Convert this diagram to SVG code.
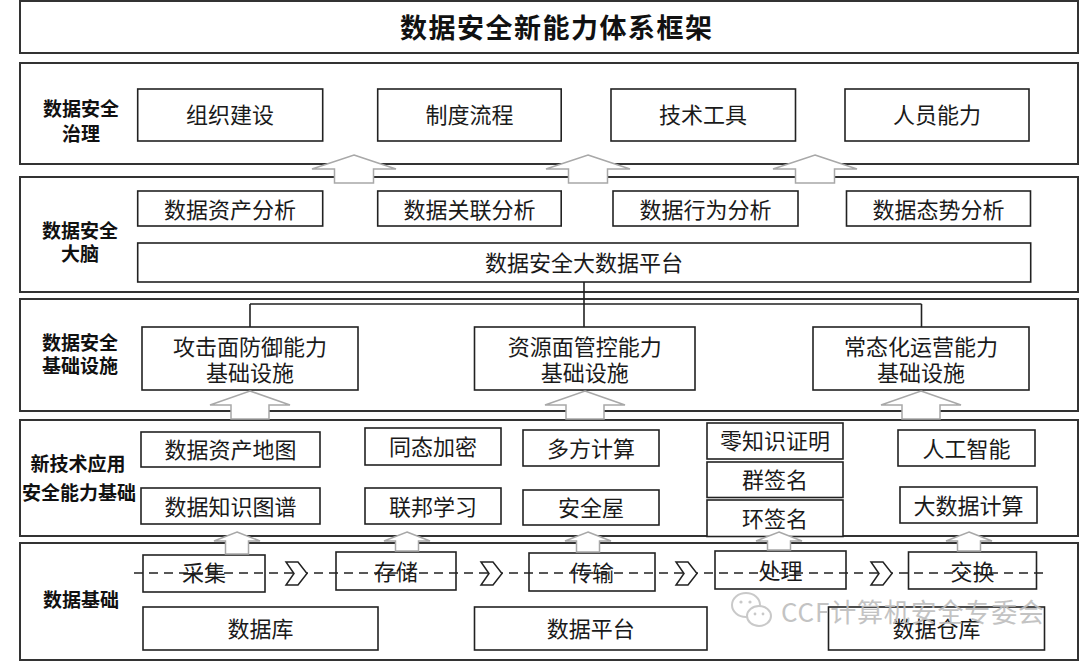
<svg xmlns="http://www.w3.org/2000/svg" width="1080" height="661" viewBox="0 0 1080 661">
<defs>
<style>
.sec{fill:#fff;stroke:#333;stroke-width:2}
.box{fill:#fff;stroke:#222;stroke-width:1.6}
.t{font-family:"Noto Sans CJK SC","Noto Sans",sans-serif;font-size:22px;fill:#1a1a1a;text-anchor:middle;dominant-baseline:central}
.lb{font-family:"Noto Sans CJK SC","Noto Sans",sans-serif;font-size:19px;font-weight:bold;fill:#111;text-anchor:middle;dominant-baseline:central}
.ttl{font-family:"Noto Sans CJK SC","Noto Sans",sans-serif;font-size:27px;font-weight:bold;fill:#111;dominant-baseline:central}
.arw{fill:#fff;stroke:#a8a8a8;stroke-width:1.5;stroke-linejoin:miter}
.ln{fill:none;stroke:#222;stroke-width:1.6}
.dash{fill:none;stroke:#222;stroke-width:1.5;stroke-dasharray:9 6}
.chev{fill:#fff;stroke:#222;stroke-width:1.5}
.wm{font-family:"Noto Sans CJK SC","Noto Sans",sans-serif;font-size:26px;fill:#bdbdbd;dominant-baseline:central}
</style>
</defs>

<g id="title">
<rect class="sec" x="20" y="1" width="1058" height="52"/>
<text class="ttl" x="400" y="26.5" textLength="312" lengthAdjust="spacing">数据安全新能力体系框架</text>
</g>

<g id="layer-governance">
<rect class="sec" x="20" y="63" width="1058" height="101"/>
<text class="lb"><tspan x="81" y="106.5">数据安全</tspan><tspan x="81" y="131.5">治理</tspan></text>
</g>
<g id="layer-brain">
<rect class="sec" x="20" y="177" width="1058" height="115"/>
<text class="lb"><tspan x="80" y="228.5">数据安全</tspan><tspan x="80" y="251.5">大脑</tspan></text>
</g>
<g id="layer-infra">
<rect class="sec" x="20" y="299" width="1058" height="112"/>
<text class="lb"><tspan x="80" y="340.5">数据安全</tspan><tspan x="80" y="363.5">基础设施</tspan></text>
</g>
<g id="layer-newtech">
<rect class="sec" x="20" y="420" width="1058" height="116"/>
<text class="lb"><tspan x="78" y="461.5">新技术应用</tspan><tspan x="79" y="490.5">安全能力基础</tspan></text>
</g>
<g id="layer-data">
<rect class="sec" x="20" y="543" width="1058" height="117"/>
<text class="lb" x="81" y="598.5">数据基础</text>
</g>

<g id="n-org"><rect class="box" x="137.7" y="89" width="185" height="52"/><text class="t" x="230" y="113">组织建设</text></g>
<g id="n-policy"><rect class="box" x="377.7" y="89" width="183.5" height="52"/><text class="t" x="469.5" y="113">制度流程</text></g>
<g id="n-tools"><rect class="box" x="611" y="89" width="184.5" height="52"/><text class="t" x="703" y="113">技术工具</text></g>
<g id="n-people"><rect class="box" x="845" y="89" width="184" height="52"/><text class="t" x="937" y="113">人员能力</text></g>

<g id="n-asset-analysis"><rect class="box" x="137.7" y="191" width="185" height="35"/><text class="t" x="230" y="207.5">数据资产分析</text></g>
<g id="n-relation-analysis"><rect class="box" x="377.7" y="191" width="183.5" height="35"/><text class="t" x="469.5" y="207.5">数据关联分析</text></g>
<g id="n-behavior-analysis"><rect class="box" x="613" y="191" width="185" height="35"/><text class="t" x="705.5" y="207.5">数据行为分析</text></g>
<g id="n-situation-analysis"><rect class="box" x="846.5" y="191" width="184" height="35"/><text class="t" x="938.5" y="207.5">数据态势分析</text></g>
<g id="n-bigdata-platform"><rect class="box" x="137.7" y="243" width="893" height="39"/><text class="t" x="584" y="260.5">数据安全大数据平台</text></g>

<g id="n-attack-surface"><rect class="box" x="142" y="327" width="216" height="63"/><text class="t"><tspan x="250" y="345">攻击面防御能力</tspan><tspan x="250" y="371">基础设施</tspan></text></g>
<g id="n-resource-surface"><rect class="box" x="474.5" y="327" width="220.5" height="63"/><text class="t"><tspan x="584.7" y="345">资源面管控能力</tspan><tspan x="584.7" y="371">基础设施</tspan></text></g>
<g id="n-operations"><rect class="box" x="813" y="327" width="216" height="63"/><text class="t"><tspan x="921" y="345">常态化运营能力</tspan><tspan x="921" y="371">基础设施</tspan></text></g>

<g id="n-asset-map"><rect class="box" x="141" y="432" width="179" height="35"/><text class="t" x="230.5" y="448">数据资产地图</text></g>
<g id="n-knowledge-graph"><rect class="box" x="141" y="488" width="179" height="36"/><text class="t" x="230.5" y="504.5">数据知识图谱</text></g>
<g id="n-homomorphic"><rect class="box" x="365" y="428" width="136" height="37"/><text class="t" x="433" y="445">同态加密</text></g>
<g id="n-federated"><rect class="box" x="365" y="488" width="136" height="36"/><text class="t" x="433" y="504.5">联邦学习</text></g>
<g id="n-mpc"><rect class="box" x="523" y="430" width="136" height="36"/><text class="t" x="591" y="446.5">多方计算</text></g>
<g id="n-safe-house"><rect class="box" x="523" y="490" width="136" height="35"/><text class="t" x="591" y="506">安全屋</text></g>
<g id="n-zkp"><rect class="box" x="707" y="423" width="136" height="36"/><text class="t" x="775" y="439">零知识证明</text></g>
<g id="n-group-sig"><rect class="box" x="707" y="462" width="136" height="35.5"/><text class="t" x="775" y="478">群签名</text></g>
<g id="n-ring-sig"><rect class="box" x="707" y="500" width="136" height="36.5"/><text class="t" x="775" y="516.5">环签名</text></g>
<g id="n-ai"><rect class="box" x="898" y="430" width="137" height="36"/><text class="t" x="966.5" y="446.5">人工智能</text></g>
<g id="n-bigdata-compute"><rect class="box" x="900" y="487" width="137" height="36"/><text class="t" x="968.5" y="503.5">大数据计算</text></g>

<g id="n-collect"><rect class="box" x="143" y="555" width="122" height="37"/><text class="t" x="204" y="571">采集</text></g>
<g id="n-store"><rect class="box" x="336" y="552" width="120" height="38"/><text class="t" x="396" y="570">存储</text></g>
<g id="n-transfer"><rect class="box" x="529" y="553" width="126" height="38"/><text class="t" x="592" y="571">传输</text></g>
<g id="n-process"><rect class="box" x="715" y="551" width="131" height="38"/><text class="t" x="780.5" y="569">处理</text></g>
<g id="n-exchange"><rect class="box" x="908.5" y="552" width="128" height="37"/><text class="t" x="972.5" y="570">交换</text></g>
<g id="n-database"><rect class="box" x="143" y="607" width="235" height="43"/><text class="t" x="260.5" y="627">数据库</text></g>
<g id="n-data-platform"><rect class="box" x="474.5" y="607" width="232.5" height="43"/><text class="t" x="590.7" y="627">数据平台</text></g>
<g id="n-data-warehouse"><rect class="box" x="828.5" y="607" width="216" height="43"/><text class="t" x="936.5" y="627">数据仓库</text></g>

<g id="connectors">
<path class="ln" d="M584,282 V327 M250,304 H921.5 M250,304 V327 M921.5,304 V327"/>
<polygon class="arw" points="354,155 396,169 373.5,169 373.5,183 334.5,183 334.5,169 312,169"/>
<polygon class="arw" points="588,155 630,169 607.5,169 607.5,183 568.5,183 568.5,169 546,169"/>
<polygon class="arw" points="815,155 857,169 834.5,169 834.5,183 795.5,183 795.5,169 773,169"/>
<polygon class="arw" points="250,391 290,405 269,405 269,419 231,419 231,405 210,405"/>
<polygon class="arw" points="585,391 625,405 604,405 604,419 566,419 566,405 545,405"/>
<polygon class="arw" points="921,391 961,405 940,405 940,419 902,419 902,405 881,405"/>
<polygon class="arw" points="237,532 260,541 248.5,541 248.5,554 225.5,554 225.5,541 214,541"/>
<polygon class="arw" points="407,532 430,541 418.5,541 418.5,551 395.5,551 395.5,541 384,541"/>
<polygon class="arw" points="588,532 611,541 599.5,541 599.5,552 576.5,552 576.5,541 565,541"/>
<polygon class="arw" points="779,532 802,541 790.5,541 790.5,550 767.5,550 767.5,541 756,541"/>
<polygon class="arw" points="969,532 992,541 980.5,541 980.5,551 957.5,551 957.5,541 946,541"/>
<line class="dash" x1="134" y1="573" x2="1044" y2="573"/>
<polygon class="chev" points="286,562 298,562 307,573.5 298,585 286,585 294,573.5"/>
<polygon class="chev" points="481,562 493,562 502,573.5 493,585 481,585 489,573.5"/>
<polygon class="chev" points="676,562 688,562 697,573.5 688,585 676,585 684,573.5"/>
<polygon class="chev" points="871,562 883,562 892,573.5 883,585 871,585 879,573.5"/>
</g>

<g id="watermark" opacity="0.9">
<ellipse cx="746" cy="605" rx="14" ry="12" fill="none" stroke="#c4c4c4" stroke-width="2"/>
<ellipse cx="759" cy="616" rx="12" ry="10" fill="#fff" stroke="#c4c4c4" stroke-width="2"/>
<circle cx="741" cy="602" r="1.6" fill="#c4c4c4"/><circle cx="750" cy="602" r="1.6" fill="#c4c4c4"/>
<circle cx="755" cy="614" r="1.4" fill="#c4c4c4"/><circle cx="763" cy="614" r="1.4" fill="#c4c4c4"/>
<text class="wm" x="781" y="610" textLength="263" lengthAdjust="spacing">CCF计算机安全专委会</text>
</g>
</svg>
